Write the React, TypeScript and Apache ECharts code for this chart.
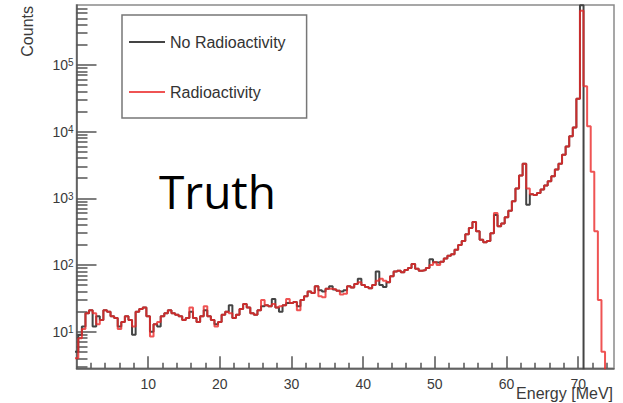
import { useEffect, useRef } from 'react';
import * as echarts from 'echarts';

// Histogram binning (bin centres at 0, 0.5, 1.0, ... 75 MeV)
const binWidth = 0.5;
const firstBinLow = -0.25;

// Counts per bin
const noRadioactivity = [
  5, 9, 12, 19, 21, 12, 17, 15, 21, 20,
  17, 16, 12, 14, 17, 15, 9, 20, 22, 23,
  17, 10, 13, 12, 17, 19, 21, 19, 18, 17,
  15, 16, 20, 16, 14, 17, 21, 17, 15, 13,
  14, 18, 20, 25, 16, 18, 22, 26, 23, 19,
  18, 21, 24, 25, 24, 31, 23, 20, 25, 27,
  27, 28, 24, 30, 34, 40, 38, 48, 42, 40,
  44, 48, 43, 41, 40, 42, 48, 46, 52, 62,
  50, 47, 45, 50, 80, 50, 47, 55, 68, 80,
  82, 78, 84, 90, 104, 88, 82, 84, 90, 122,
  110, 108, 112, 125, 138, 145, 170, 200, 230, 290,
  360, 440, 320, 240, 220, 230, 300, 560, 380, 420,
  520, 650, 900, 1400, 2200, 3300, 800, 1150, 1120, 1200,
  1350, 1550, 1800, 2150, 2700, 3300, 4500, 6000, 8500, 11500,
  31000, 780000, 0, 0, 0, 0, 0, 0, 0, 0,
  0,
];

const radioactivity = [
  4, 8, 11, 19, 21, 19, 13, 15, 21, 20,
  17, 16, 11, 14, 17, 15, 12, 20, 22, 23,
  17, 8.5, 13, 14, 17, 19, 21, 19, 18, 17,
  15, 16, 23, 16, 14, 17, 24, 17, 15, 12,
  14, 18, 20, 19, 16, 18, 22, 26, 23, 19,
  18, 21, 30, 25, 24, 26, 23, 24, 25, 31,
  27, 28, 21, 30, 34, 40, 38, 48, 34, 33,
  44, 44, 43, 41, 36, 37, 48, 46, 52, 55,
  50, 47, 45, 50, 58, 62, 58, 55, 68, 80,
  82, 78, 84, 90, 104, 88, 82, 84, 90, 100,
  110, 100, 112, 125, 138, 145, 170, 200, 230, 290,
  360, 440, 320, 240, 220, 230, 300, 600, 380, 420,
  520, 650, 900, 1400, 2200, 3300, 1400, 1150, 1120, 1200,
  1350, 1550, 1800, 2150, 2700, 3300, 4500, 6000, 8500, 11500,
  31000, 650000, 48000, 12000, 2500, 320, 30, 5, 0, 0,
  0,
];

// Axis ticks
const xMajorTicks = [10, 20, 30, 40, 50, 60, 70];
const xMinorTicks = [2, 4, 6, 8, 12, 14, 16, 18, 22, 24, 26, 28, 32, 34, 36, 38, 42, 44, 46, 48, 52, 54, 56, 58, 62, 64, 66, 68, 72, 74];
const yMajorTicks = [10, 100, 1000, 10000, 100000];
const yMinorTicks = [
  3, 4, 5, 6, 7, 8, 9,
  20, 30, 40, 50, 60, 70, 80, 90,
  200, 300, 400, 500, 600, 700, 800, 900,
  2000, 3000, 4000, 5000, 6000, 7000, 8000, 9000,
  20000, 30000, 40000, 50000, 60000, 70000, 80000, 90000,
  200000, 300000, 400000, 500000, 600000, 700000,
];

const X_MIN = 0;
const X_MAX = 75;
const Y_MIN = 2.83;
const Y_MAX = 790000;
const LOG_FLOOR = 1e-3; // empty bins drop below the axis (clipped)

function toSteps(counts: number[]): [number, number][] {
  const pts: [number, number][] = counts.map((c, i) => [firstBinLow + i * binWidth, c > 0 ? c : LOG_FLOOR]);
  const last = counts[counts.length - 1];
  pts.push([firstBinLow + counts.length * binWidth, last > 0 ? last : LOG_FLOOR]);
  return pts;
}

const FONT = "'Liberation Sans', Arial, sans-serif";
const TEXT = '#3a3a3a';

export default function App() {
  const ref = useRef<HTMLDivElement>(null);

  useEffect(() => {
    if (!ref.current) return;
    const chart = echarts.init(ref.current, undefined, { renderer: 'svg' });
    const blackColor = '#444444';
    const redColor = 'rgba(235,40,40,0.8)';
    chart.setOption({
      animation: false,
      backgroundColor: '#ffffff',
      grid: {
        left: 76.5,
        right: 9,
        top: 5,
        bottom: 34.7,
        show: true,
        borderColor: '#8a8a8a',
        borderWidth: 1.5,
        outerBoundsMode: 'none',
        containLabel: false,
      },
      xAxis: [
        {
          type: 'value',
          min: X_MIN,
          max: X_MAX,
          position: 'bottom',
          axisLine: { show: true, lineStyle: { color: '#555', width: 1.5 } },
          axisTick: { show: true, inside: true, length: 12, customValues: xMajorTicks, lineStyle: { color: '#555', width: 1.5 } },
          axisLabel: { show: true, customValues: xMajorTicks, margin: 9, fontSize: 14, color: TEXT, fontFamily: FONT },
          splitLine: { show: false },
        },
        {
          type: 'value',
          min: X_MIN,
          max: X_MAX,
          position: 'bottom',
          axisLine: { show: false },
          axisTick: { show: true, inside: true, length: 5.5, customValues: xMinorTicks, lineStyle: { color: '#555', width: 1.5 } },
          axisLabel: { show: false },
          splitLine: { show: false },
        },
      ],
      yAxis: [
        {
          type: 'log',
          logBase: 10,
          min: Y_MIN,
          max: Y_MAX,
          position: 'left',
          axisLine: { show: true, lineStyle: { color: '#555', width: 1.5 } },
          axisTick: { show: true, inside: true, length: 20, customValues: yMajorTicks, lineStyle: { color: '#555', width: 1.5 } },
          axisLabel: {
            show: true,
            customValues: yMajorTicks,
            margin: 3,
            formatter: (v: number) => `{b|10}{s|${Math.round(Math.log10(v))}}`,
            rich: {
              b: { fontSize: 14, color: TEXT, fontFamily: FONT, lineHeight: 14 },
              s: { fontSize: 10, color: TEXT, fontFamily: FONT, verticalAlign: 'top', lineHeight: 14 },
            },
          },
          splitLine: { show: false },
        },
        {
          type: 'log',
          logBase: 10,
          min: Y_MIN,
          max: Y_MAX,
          position: 'left',
          axisLine: { show: false },
          axisTick: { show: true, inside: true, length: 11, customValues: yMinorTicks, lineStyle: { color: '#555', width: 1.5 } },
          axisLabel: { show: false },
          splitLine: { show: false },
        },
      ],
      legend: {
        orient: 'vertical',
        left: 122,
        top: 15,
        padding: [19, 21, 18, 7],
        itemGap: 34,
        itemWidth: 36,
        itemHeight: 2,
        icon: 'rect',
        borderColor: '#777',
        borderWidth: 1.5,
        backgroundColor: '#ffffff',
        textStyle: { fontSize: 16, color: '#333', fontFamily: FONT },
        data: ['No Radioactivity', 'Radioactivity'],
      },
      series: [
        {
          name: 'No Radioactivity',
          type: 'line',
          step: 'end',
          xAxisIndex: 0,
          yAxisIndex: 0,
          symbol: 'none',
          color: blackColor,
          itemStyle: { color: blackColor },
          lineStyle: { color: blackColor, width: 2 },
          clip: true,
          silent: true,
          data: toSteps(noRadioactivity),
        },
        {
          name: 'Radioactivity',
          type: 'line',
          step: 'end',
          xAxisIndex: 0,
          yAxisIndex: 0,
          symbol: 'none',
          color: redColor,
          itemStyle: { color: redColor },
          lineStyle: { color: redColor, width: 2 },
          clip: true,
          silent: true,
          data: toSteps(radioactivity),
        },
      ],
      graphic: [
        {
          type: 'text',
          x: 27,
          y: 6,
          rotation: Math.PI / 2,
          style: { text: 'Counts', fontSize: 16, fontFamily: FONT, fill: TEXT, align: 'right', verticalAlign: 'middle' },
        },
        {
          type: 'text',
          x: 613,
          y: 393,
          style: { text: 'Energy [MeV]', fontSize: 16, fontFamily: FONT, fill: TEXT, align: 'right', verticalAlign: 'middle' },
        },
        {
          type: 'text',
          x: 159,
          y: 191,
          style: { text: 'Truth', fontSize: 46, fontFamily: "'Open Sans', sans-serif", fill: '#000', align: 'left', verticalAlign: 'middle' },
        },
      ],
    });
    return () => chart.dispose();
  }, []);

  return (
    <div
      ref={ref}
      style={{ position: 'fixed', left: 0, top: 0, width: 623, height: 403, background: '#fff' }}
    />
  );
}
